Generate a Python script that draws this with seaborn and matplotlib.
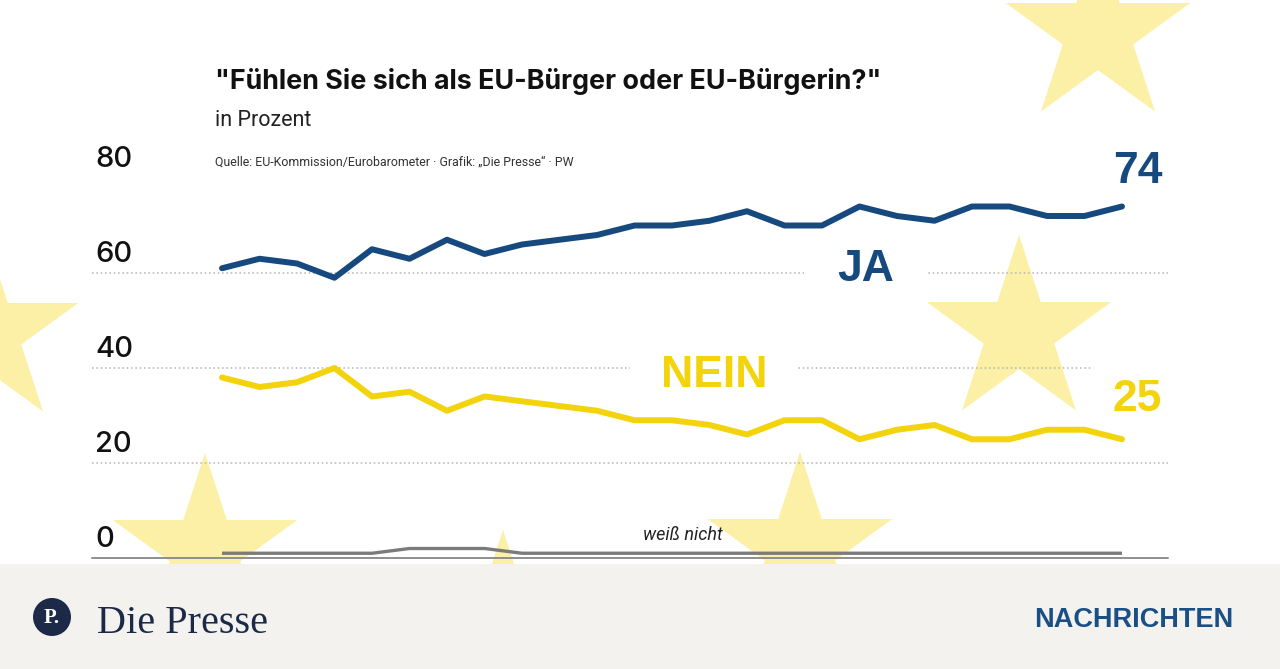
import numpy as np
import pandas as pd
import matplotlib
matplotlib.use("Agg")
import matplotlib.pyplot as plt
import seaborn as sns
from matplotlib.patches import Polygon, Circle, Rectangle

# ---------------- data ----------------
waves = list(range(25))
ja = [61, 63, 62, 59, 65, 63, 67, 64, 66, 67, 68, 70, 70, 71, 73, 70, 70, 74, 72, 71, 74, 74, 72, 72, 74]
nein = [38, 36, 37, 40, 34, 35, 31, 34, 33, 32, 31, 29, 29, 28, 26, 29, 29, 25, 27, 28, 25, 25, 27, 27, 25]
weiss_nicht = [1, 1, 1, 1, 1, 2, 2, 2, 1, 1, 1, 1, 1, 1, 1, 1, 1, 1, 1, 1, 1, 1, 1, 1, 1]
y_ticks = [0, 20, 40, 60, 80]
title = '"Fühlen Sie sich als EU-Bürger oder EU-Bürgerin?"'
subtitle = "in Prozent"
source = "Quelle: EU-Kommission/Eurobarometer · Grafik: „Die Presse“ · PW"

BLUE = "#164a7e"
YELLOW = "#f3d30c"
GREY = "#7b7b7b"
STAR = "#fbf0a6"

sns.set_theme(style="white")
plt.rcParams["font.family"] = ["Inter", "DejaVu Sans"]

W, H = 1280, 669
fig = plt.figure(figsize=(W / 100, H / 100), dpi=100)
fig.patch.set_facecolor("white")

# background layer (pixel coordinates, y downwards)
ax_bg = fig.add_axes([0, 0, 1, 1], zorder=0)
ax_bg.set_xlim(0, W)
ax_bg.set_ylim(H, 0)
ax_bg.axis("off")
px = ax_bg.transData


def star(cx, cy, R, ratio=0.382):
    pts = []
    for k in range(10):
        ang = np.pi / 2 + k * np.pi / 5
        r = R if k % 2 == 0 else R * ratio
        pts.append((cx + r * np.cos(ang), cy - r * np.sin(ang)))
    return pts


for cx, cy in [(1098, 33), (1019, 332), (-14, 333), (205, 550), (800, 549), (503, 627)]:
    ax_bg.add_patch(Polygon(star(cx, cy, 97), closed=True, facecolor=STAR, edgecolor="none"))

# main chart axes
left_px, right_px, top_px, base_px = 92, 1168, 178, 558
ax = fig.add_axes([left_px / W, (H - base_px) / H, (right_px - left_px) / W, (base_px - top_px) / H], zorder=1)
ax.set_facecolor("none")
step = 37.5
ax.set_xlim((left_px - 222) / step, (right_px - 222) / step)
ax.set_ylim(0, 80)
for s in ax.spines.values():
    s.set_visible(False)
ax.set_xticks([])
ax.set_yticks([])

for v in y_ticks[1:-1]:
    ax.axhline(v, color="#bdbdbd", lw=1.2, ls=(0, (1, 1.6)), zorder=1)
ax.axhline(0, color="#8e8e8e", lw=1.4, zorder=1, clip_on=False)

sns.lineplot(x=waves, y=ja, ax=ax, color=BLUE, lw=4.3, zorder=4, solid_capstyle="round", clip_on=False)
sns.lineplot(x=waves, y=nein, ax=ax, color=YELLOW, lw=4.3, zorder=4, solid_capstyle="round", clip_on=False)
sns.lineplot(x=waves, y=weiss_nicht, ax=ax, color=GREY, lw=2.4, zorder=3, solid_capstyle="butt", clip_on=False)
ax.set_xlabel("")
ax.set_ylabel("")

for v in y_ticks:
    ax.annotate(str(v), xy=(0, v), xycoords=("axes fraction", "data"), xytext=(3, 11),
                textcoords="offset pixels", ha="left", va="baseline", fontsize=21,
                fontweight="medium", color="#111111", zorder=2)

big = dict(family=["Liberation Sans", "DejaVu Sans"], fontweight="bold", fontsize=32, zorder=2)
ax.text(866, 281, "JA", transform=px, ha="center", va="baseline", color=BLUE,
        bbox=dict(boxstyle="square,pad=0.75", fc="white", ec="none"), **big)
ax.text(714, 387, "NEIN", transform=px, ha="center", va="baseline", color=YELLOW,
        bbox=dict(boxstyle="square,pad=0.7", fc="white", ec="none"), **big)
ax.text(1113, 183, "74", transform=px, ha="left", va="baseline", color=BLUE, **big)
ax.text(1113, 411, "25", transform=px, ha="left", va="baseline", color=YELLOW,
        bbox=dict(boxstyle="square,pad=0.45", fc="white", ec="none"), **big)

narrow = ["Liberation Sans Narrow", "Roboto", "DejaVu Sans"]
ax.text(683, 540, "weiß nicht", transform=px, ha="center", va="baseline", fontsize=13,
        style="italic", family=narrow, color="#222222", zorder=2)

# titles
fig.text(215 / W, 1 - 89 / H, title, ha="left", va="baseline", fontsize=19.4,
         fontweight="bold", color="#111111")
fig.text(215 / W, 1 - 126 / H, subtitle, ha="left", va="baseline", fontsize=15.5,
         family=narrow, color="#222222")
fig.text(215 / W, 1 - 166 / H, source, ha="left", va="baseline", fontsize=8.9,
         family=narrow, color="#333333")

# footer
ax_ft = fig.add_axes([0, 0, 1, 1], zorder=5)
ax_ft.set_xlim(0, W)
ax_ft.set_ylim(H, 0)
ax_ft.axis("off")
ax_ft.add_patch(Rectangle((0, 564), W, H - 564, facecolor="#f3f2ef", edgecolor="none"))
ax_ft.add_patch(Circle((52, 617), 19, facecolor="#1c2a48", edgecolor="none"))
ax_ft.text(52, 618, "P.", ha="center", va="center", color="white", fontsize=15,
           fontweight="bold", family=["Liberation Serif", "DejaVu Serif"])
ax_ft.text(97, 633, "Die Presse", ha="left", va="baseline", color="#1c2a48", fontsize=29,
           family=["Liberation Serif", "DejaVu Serif"])
ax_ft.text(1233, 627, "NACHRICHTEN", ha="right", va="baseline", color="#1a4f86", fontsize=19.5,
           fontweight="bold", family=["Liberation Sans", "DejaVu Sans"])

fig.savefig("out.png", dpi=100, facecolor=fig.get_facecolor())
